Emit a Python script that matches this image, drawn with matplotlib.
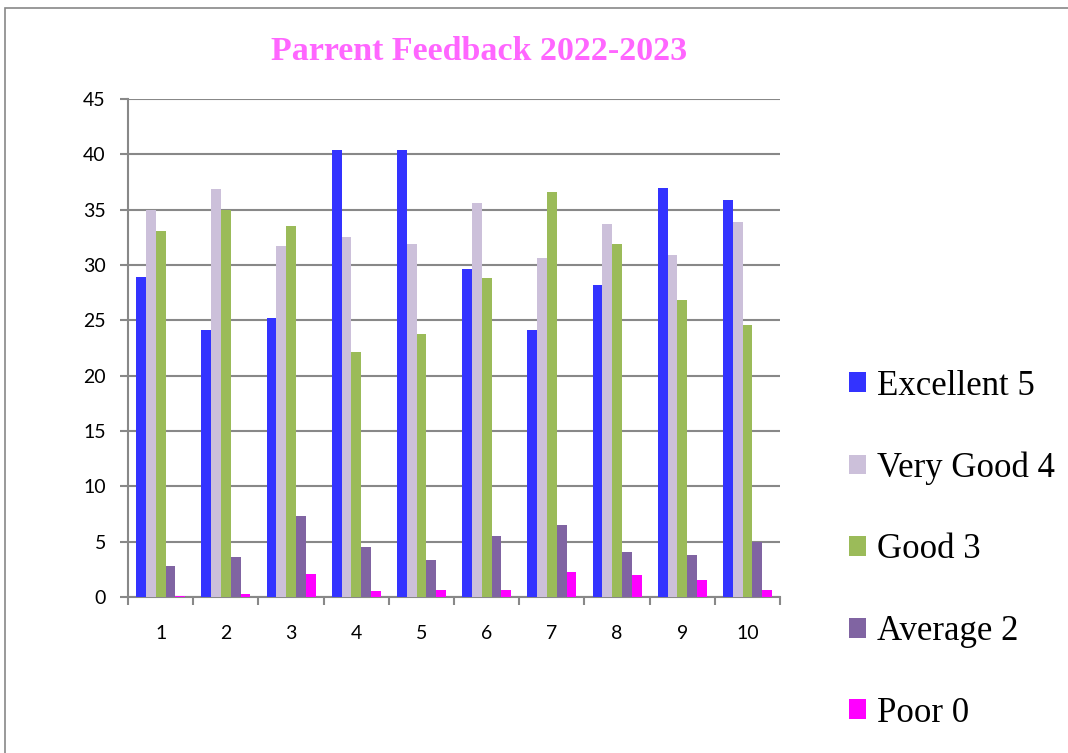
import numpy as np
import matplotlib.pyplot as plt
from matplotlib.patches import Rectangle

categories = ['1', '2', '3', '4', '5', '6', '7', '8', '9', '10']
excellent = [28.9, 24.1, 25.2, 40.4, 40.4, 29.6, 24.1, 28.2, 37.0, 35.9]
very_good = [35.0, 36.9, 31.7, 32.5, 31.9, 35.6, 30.6, 33.7, 30.9, 33.9]
good = [33.1, 35.0, 33.5, 22.1, 23.8, 28.8, 36.6, 31.9, 26.8, 24.6]
average = [2.8, 3.6, 7.3, 4.5, 3.3, 5.5, 6.5, 4.1, 3.8, 5.0]
poor = [0.1, 0.3, 2.1, 0.5, 0.6, 0.6, 2.3, 2.0, 1.5, 0.6]

series = [
    ('Excellent 5', excellent, '#3333FF'),
    ('Very Good 4', very_good, '#CCC0DA'),
    ('Good 3', good, '#9BBB59'),
    ('Average 2', average, '#8064A2'),
    ('Poor 0', poor, '#FF00FF'),
]

fig = plt.figure(figsize=(10.68, 7.53), dpi=100)
fig.patches.append(Rectangle((0.005, -0.1), 1.1, 1.09, transform=fig.transFigure,
                             fill=False, edgecolor='#888888', linewidth=1.2))
ax = fig.add_axes([0.1199, 0.2072, 0.6105, 0.6613])

x = np.arange(1, len(categories) + 1)
width = 0.15
for i, (name, vals, col) in enumerate(series):
    ax.bar(x + (i - 2) * width, vals, width, color=col, label=name, zorder=3)

ax.set_xlim(0.5, 10.5)
ax.set_ylim(0, 45)
ax.set_yticks(range(0, 46, 5))
ax.yaxis.grid(True, color='#888888', linewidth=1.5, zorder=0)

ax.set_xticks(x)
ax.set_xticklabels(categories)
ax.set_xticks(np.arange(0.5, 11, 1), minor=True)
ax.tick_params(axis='x', which='major', length=0, pad=20, labelsize=14)
ax.tick_params(axis='x', which='minor', length=6, width=1.5, color='#888888')
ax.tick_params(axis='y', length=6, width=1.5, color='#888888', pad=10, labelsize=14)
for lab in ax.get_xticklabels() + ax.get_yticklabels():
    lab.set_family('Lato')

for s in ['top', 'right']:
    ax.spines[s].set_visible(False)
for s in ['left', 'bottom']:
    ax.spines[s].set_color('#888888')
    ax.spines[s].set_linewidth(1.5)

fig.text(0.449, 0.932, 'Parrent Feedback 2022-2023', ha='center', va='center',
         family='Liberation Serif', weight='bold', fontsize=24.5, color='#FF66FF')

fig.legend(loc='center left', bbox_to_anchor=(0.795, 0.27), frameon=False,
           borderpad=0, borderaxespad=0,
           prop={'family': 'Liberation Serif', 'size': 25},
           handlelength=0.5, handleheight=0.5, handletextpad=0.3, labelspacing=1.4)

fig.savefig('out.png', dpi=100)
